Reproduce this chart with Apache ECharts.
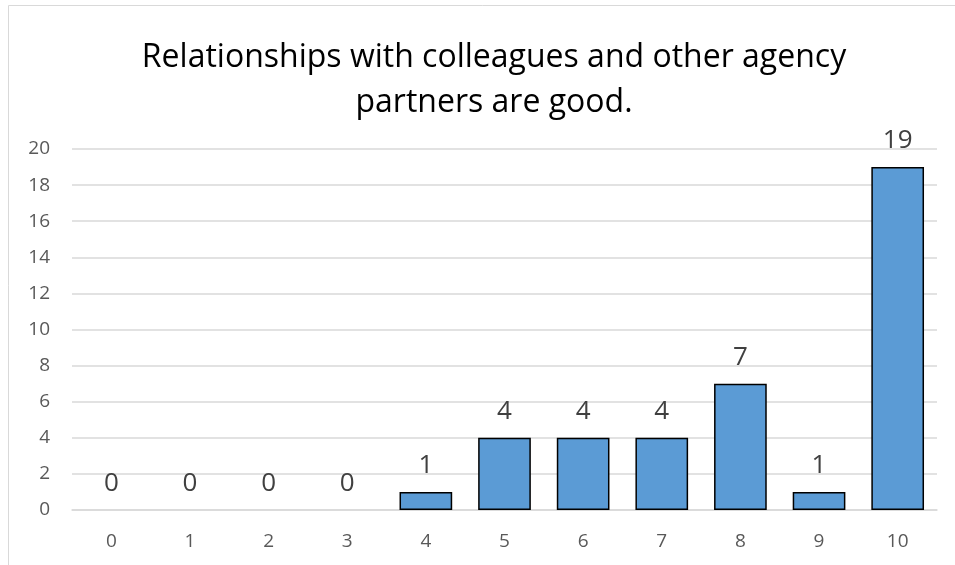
<!DOCTYPE html>
<html><head><meta charset="utf-8">
<script src="https://cdn.jsdelivr.net/npm/echarts@6/dist/echarts.min.js"></script>
<style>html,body{margin:0;padding:0;background:#fff}#c{width:955px;height:565px}</style>
</head><body><div id="c"></div>
<script>
const categories = ['0','1','2','3','4','5','6','7','8','9','10'];
const values = [0,0,0,0,1,4,4,4,7,1,19];
const yTicks = {min:0, max:20, interval:2};
const titleText = 'Relationships with colleagues and other agency\npartners are good.';

const chart = echarts.init(document.getElementById('c'));
const font = '"Open Sans", "Noto Sans", sans-serif';
const seriesData = values.map(v => v === 0
  ? {value:v, itemStyle:{borderWidth:0}}
  : {value:v});
chart.setOption({
  animation:false,
  graphic:[{type:'rect', shape:{x:8.5,y:5.5,width:1000,height:1000}, style:{fill:'none',stroke:'#d9d9d9',lineWidth:1}, z:-1}],
  title:{text:titleText, left:489, textAlign:'center', top:30, textStyle:{fontFamily:font, fontSize:32, fontWeight:'normal', color:'#000', lineHeight:45}},
  grid:{left:72, right:18, top:149, bottom:55},
  xAxis:{type:'category', data:categories, axisTick:{show:false}, axisLine:{lineStyle:{color:'#d9d9d9', width:1.5}},
    axisLabel:{fontFamily:font, fontSize:19, color:'#595959', margin:22}},
  yAxis:{type:'value', min:yTicks.min, max:yTicks.max, interval:yTicks.interval,
    axisLabel:{fontFamily:font, fontSize:19, color:'#595959', margin:22},
    splitLine:{lineStyle:{color:'#d9d9d9', width:1.5}}, axisLine:{show:false}, axisTick:{show:false}},
  series:[{type:'bar', data:seriesData, barWidth:'67%',
    itemStyle:{color:'#5b9bd5', borderColor:'#000', borderWidth:1.5},
    label:{show:true, position:'top', distance:13, fontFamily:font, fontSize:26, color:'#404040'}}]
});
</script></body></html>
